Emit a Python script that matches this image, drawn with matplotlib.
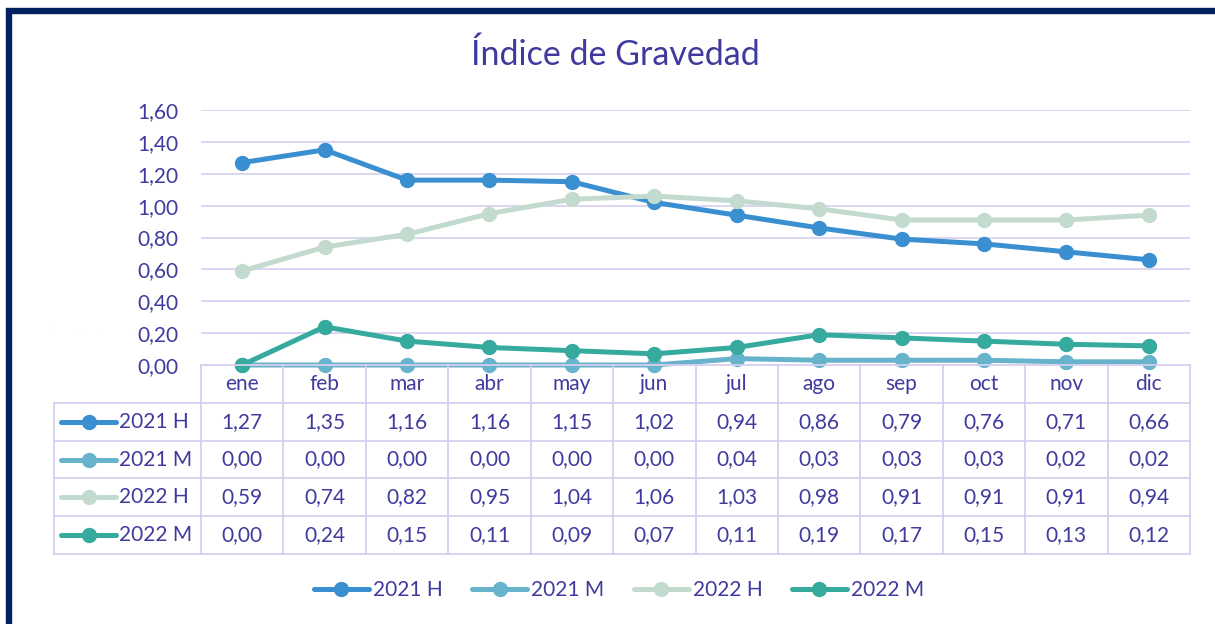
import matplotlib
matplotlib.use("Agg")
import matplotlib.pyplot as plt
from matplotlib.lines import Line2D
from matplotlib.patches import Rectangle

plt.rcParams['font.family'] = ['Lato', 'DejaVu Sans']

months = ["ene", "feb", "mar", "abr", "may", "jun", "jul", "ago", "sep", "oct", "nov", "dic"]
series_names = ["2021 H", "2021 M", "2022 H", "2022 M"]
h2021 = [1.27, 1.35, 1.16, 1.16, 1.15, 1.02, 0.94, 0.86, 0.79, 0.76, 0.71, 0.66]
m2021 = [0.00, 0.00, 0.00, 0.00, 0.00, 0.00, 0.04, 0.03, 0.03, 0.03, 0.02, 0.02]
h2022 = [0.59, 0.74, 0.82, 0.95, 1.04, 1.06, 1.03, 0.98, 0.91, 0.91, 0.91, 0.94]
m2022 = [0.00, 0.24, 0.15, 0.11, 0.09, 0.07, 0.11, 0.19, 0.17, 0.15, 0.13, 0.12]
yticks = [0.0, 0.2, 0.4, 0.6, 0.8, 1.0, 1.2, 1.4, 1.6]
title = "Índice de Gravedad"

series = [h2021, m2021, h2022, m2022]
colors = ["#3a8fd0", "#68b3cc", "#c3dbcf", "#35aa9d"]
text_color = "#403a9e"
grid_color = "#d8d3f1"
FS = 15

W, H = 1215, 624
fig = plt.figure(figsize=(W / 100, H / 100), dpi=100)

def fx(px):
    return px / W

def fy(py):
    return 1 - py / H

# outer navy border (cropped at right/bottom)
fig.patches.append(Rectangle((fx(9), fy(700)), fx(1400), fy(11) - fy(700),
                             transform=fig.transFigure, fill=False,
                             edgecolor="#002060", linewidth=4.6, zorder=0))

fig.text(fx(615), fy(55), title, ha="center", va="center", fontsize=24.5, color=text_color)

left, right, top, bottom = 201, 1190, 110, 365
ax = fig.add_axes([fx(left), fy(bottom), fx(right - left), fy(top) - fy(bottom)])
x = list(range(len(months)))
for vals, c, name in zip(series, colors, series_names):
    ax.plot(x, vals, color=c, linewidth=3.6, marker="o", markersize=10,
            solid_capstyle="round", label=name, clip_on=False)
ax.set_xlim(-0.5, len(months) - 0.5)
ax.set_ylim(0, 1.6)
ax.set_yticks(yticks)
ax.set_yticklabels([f"{v:.2f}".replace(".", ",") for v in yticks])
ax.tick_params(axis="y", length=0, pad=16, labelsize=FS, labelcolor=text_color)
ax.set_xticks([])
for s in ax.spines.values():
    s.set_visible(False)
for v in yticks[1:]:
    ax.axhline(v, color=grid_color, linewidth=1.3, zorder=0)

# data table
tleft, tbottom = 54, 554
unit = (right - left) / len(months)
xl = -0.5 - (left - tleft) / unit
tax = fig.add_axes([fx(tleft), fy(tbottom), fx(right - tleft), fy(bottom) - fy(tbottom)])
tax.set_xlim(xl, len(months) - 0.5)
tax.set_ylim(5, 0)
tax.axis("off")
lc = "#d5cfee"
lw = 1.3
tax.plot([-0.5, len(months) - 0.5], [0, 0], color=lc, lw=lw, clip_on=False)
for r in range(1, 6):
    tax.plot([xl, len(months) - 0.5], [r, r], color=lc, lw=lw, clip_on=False)
for k in range(len(months) + 1):
    tax.plot([-0.5 + k, -0.5 + k], [0, 5], color=lc, lw=lw, clip_on=False)
tax.plot([xl, xl], [1, 5], color=lc, lw=lw, clip_on=False)

for i, m in enumerate(months):
    tax.text(i, 0.5, m, ha="center", va="center", fontsize=FS, color=text_color)
hl = 55 / unit
for r, (vals, c, name) in enumerate(zip(series, colors, series_names)):
    yy = r + 1.5
    x0 = xl + 7 / unit
    tax.plot([x0, x0 + hl], [yy, yy], color=c, lw=3.6, solid_capstyle="round", clip_on=False)
    tax.plot([x0 + hl / 2], [yy], marker="o", markersize=10, color=c, clip_on=False)
    tax.text(x0 + hl + 3 / unit, yy, name, ha="left", va="center", fontsize=FS, color=text_color)
    for i, v in enumerate(vals):
        tax.text(i, yy, f"{v:.2f}".replace(".", ","), ha="center", va="center",
                 fontsize=FS, color=text_color)

handles = [Line2D([0], [0], color=c, lw=3.6, marker="o", markersize=10,
                  solid_capstyle="round") for c in colors]
leg = fig.legend(handles, series_names, loc="center", bbox_to_anchor=(fx(619), fy(590)),
                 ncol=4, frameon=False, fontsize=FS, handlelength=2.65, handletextpad=0.2,
                 columnspacing=1.4, labelcolor=text_color)

fig.savefig("out.png", dpi=100)
